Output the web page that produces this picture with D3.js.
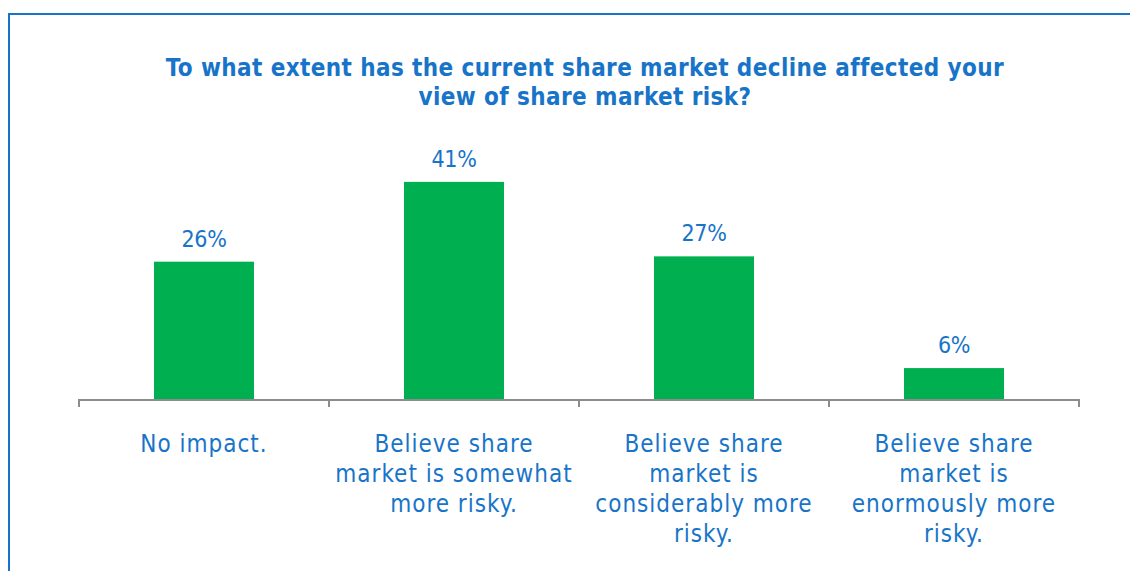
<!DOCTYPE html>
<html>
<head>
<meta charset="utf-8">
<script src="https://cdn.jsdelivr.net/npm/d3@7"></script>
<style>
  body { margin: 0; background: #fff; }
  svg text { font-family: "DejaVu Sans Condensed", "DejaVu Sans", sans-serif; fill: #1874c8; }
</style>
</head>
<body>
<div id="chart"></div>
<script>
// Chart data.
const categories = ["No impact.", "Believe share market is somewhat more risky.",
  "Believe share market is considerably more risky.", "Believe share market is enormously more risky."];
// how the category labels break onto lines
const categoryLines = [
  ["No impact."],
  ["Believe share", "market is somewhat", "more risky."],
  ["Believe share", "market is", "considerably more", "risky."],
  ["Believe share", "market is", "enormously more", "risky."]
];
const values = [26, 41, 27, 6];
const titleLines = ["To what extent has the current share market decline affected your",
  "view of share market risk?"];

const width = 1130, height = 571;

let svg = d3.select("#chart").append("svg")
  .attr("width", width)
  .attr("height", height);

// outer frame
svg.append("rect")
  .attr("x", 9).attr("y", 14)
  .attr("width", width + 20).attr("height", height + 20)
  .attr("fill", "none")
  .attr("stroke", "#1874c8")
  .attr("stroke-width", 2);

// Scales
let x = d3.scaleBand()
  .domain(categories)
  .range([79, 1079])
  .paddingInner(0.6)
  .paddingOuter(0.3);

let y = d3.scaleLinear()
  .domain([0, 50])
  .range([400, 134]);

// Title
svg.append("text")
  .attr("x", 585)
  .attr("y", 76)
  .attr("text-anchor", "middle")
  .style("font-size", "24px")
  .style("font-weight", "bold")
  .style("letter-spacing", "0.4px")
  .selectAll("tspan")
  .data(titleLines)
  .join("tspan")
    .attr("x", 585)
    .attr("dy", (d, i) => i ? 29 : 0)
    .text(d => d);

// Bars
svg.append("g")
  .selectAll("rect")
  .data(values)
  .join("rect")
    .attr("x", (d, i) => x(categories[i]))
    .attr("y", d => y(d))
    .attr("width", x.bandwidth())
    .attr("height", d => y(0) - y(d))
    .attr("fill", "#00b050");

// Value labels
svg.append("g")
  .selectAll("text")
  .data(values)
  .join("text")
    .attr("x", (d, i) => x(categories[i]) + x.bandwidth() / 2)
    .attr("y", d => y(d) - 15)
    .attr("text-anchor", "middle")
    .style("font-size", "23px")
    .style("letter-spacing", "-0.3px")
    .text(d => d + "%");

// Axis line with ticks at the category boundaries
const edges = d3.range(categories.length + 1).map(i => 79 + i * x.step());
let axis = svg.append("g").attr("stroke", "#8c8c8c").attr("stroke-width", 2);
axis.append("line")
  .attr("x1", 79).attr("x2", 1079)
  .attr("y1", y(0)).attr("y2", y(0));
axis.selectAll("line.tick")
  .data(edges)
  .join("line")
    .attr("class", "tick")
    .attr("x1", d => d).attr("x2", d => d)
    .attr("y1", y(0) - 1).attr("y2", y(0) + 7);

// Category labels
svg.append("g")
  .selectAll("text")
  .data(categoryLines)
  .join("text")
    .attr("y", 452)
    .attr("text-anchor", "middle")
    .style("font-size", "24px")
    .style("letter-spacing", "1px")
    .each(function(lines, i) {
      const cx = x(categories[i]) + x.bandwidth() / 2;
      d3.select(this).selectAll("tspan")
        .data(lines)
        .join("tspan")
          .attr("x", cx)
          .attr("dy", (d, j) => j ? 30 : 0)
          .text(d => d);
    });
</script>
</body>
</html>
